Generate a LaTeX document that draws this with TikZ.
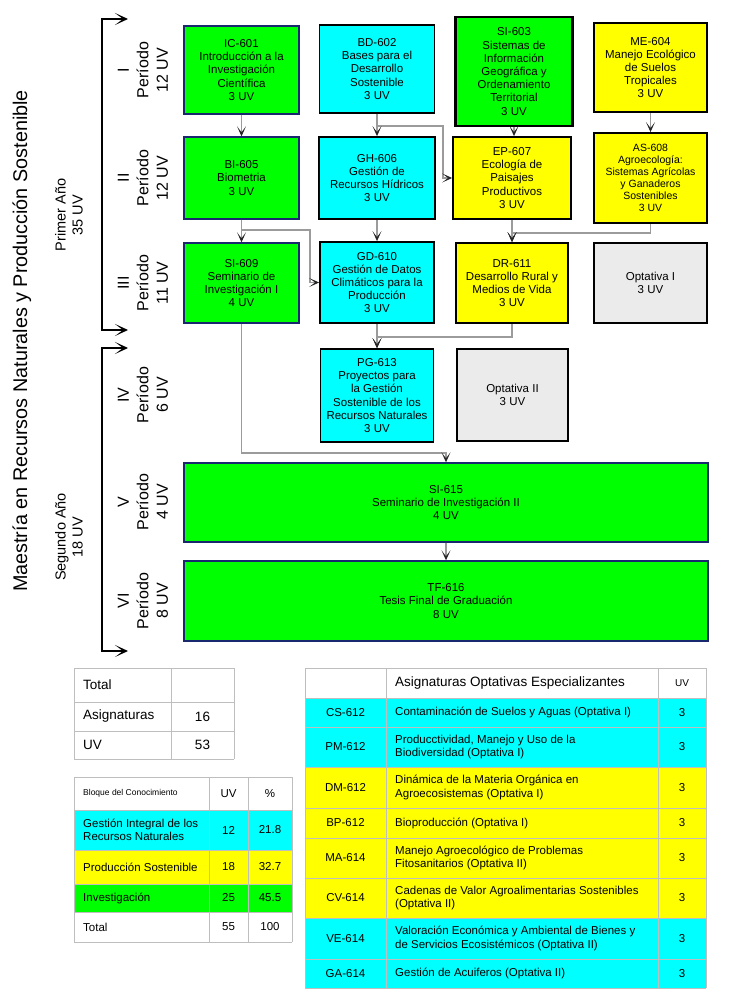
\documentclass[tikz,border=0pt]{standalone}
\usepackage{fontspec}
\setmainfont{Liberation Sans}
\usetikzlibrary{arrows.meta}
\definecolor{cgreen}{RGB}{0,255,0}
\definecolor{ccyan}{RGB}{0,255,255}
\definecolor{cyellow}{RGB}{255,255,0}
\definecolor{cgray}{RGB}{235,235,235}
\definecolor{cnavy}{RGB}{25,40,110}
\definecolor{cline}{RGB}{155,155,155}
\definecolor{cgrid}{RGB}{190,190,190}
\tikzset{
  course/.style={rectangle, draw=black, line width=1.8pt, align=center, inner sep=1pt,
    font=\fontsize{11.5}{13.2}\selectfont},
  gcourse/.style={course, fill=cgreen, draw=cnavy, line width=1.4pt},
  ccourse/.style={course, fill=ccyan},
  ycourse/.style={course, fill=cyellow},
  ocourse/.style={course, fill=cgray},
  conn/.style={draw=cline, line width=1.1pt, -{Stealth[length=10pt,width=9pt,inset=6pt,color=black!85]}},
  bk/.style={draw=black, line width=1.2pt,
    {Stealth[length=13pt,width=12pt,inset=8pt]}-{Stealth[length=13pt,width=12pt,inset=8pt]}},
  period/.style={rotate=90, align=center, font=\fontsize{16}{19.5}\selectfont},
  yearlbl/.style={rotate=90, align=center, font=\fontsize{14.5}{17}\selectfont},
  grid/.style={draw=cgrid, line width=1pt},
  tcell/.style={inner sep=0pt, font=\fontsize{11.5}{13.5}\selectfont},
}
\begin{document}
\begin{tikzpicture}[x=1pt, y=-1pt]
\useasboundingbox (0,0) rectangle (729,1000);

% ---------- left labels ----------
\node[rotate=90, font=\fontsize{19.8}{22}\selectfont] (title) at (22,341) {Maestría en Recursos Naturales y Producción Sostenible};
\node[yearlbl] (y1) at (69,215) {Primer Año\\35 UV};
\node[yearlbl] (y2) at (69,537) {Segundo Año\\18 UV};

\coordinate (b1a) at (128,19);  \coordinate (b1b) at (102,19);
\coordinate (b1c) at (102,330); \coordinate (b1d) at (128,330);
\draw[bk] (b1a) -- (b1b) -- (b1c) -- (b1d);
\coordinate (b2a) at (128,348); \coordinate (b2b) at (102,348);
\coordinate (b2c) at (102,651); \coordinate (b2d) at (128,651);
\draw[bk] (b2a) -- (b2b) -- (b2c) -- (b2d);

\node[period] (p1) at (143,70)  {I\\Período\\12 UV};
\node[period] (p2) at (143,178) {II\\Período\\12 UV};
\node[period] (p3) at (143,283) {III\\Período\\11 UV};
\node[period] (p4) at (143,395) {IV\\Período\\6 UV};
\node[period] (p5) at (143,502) {V\\Período\\4 UV};
\node[period] (p6) at (143,601) {VI\\Período\\8 UV};

% ---------- courses ----------
\node[gcourse, minimum width=115, minimum height=88] (IC) at (241.5,70) {IC-601\\Introducción a la\\Investigación\\Científica\\3 UV};
\node[ccourse, minimum width=115, minimum height=88] (BD) at (377,69) {BD-602\\Bases para el\\Desarrollo\\Sostenible\\3 UV};
\node[course, fill=cgreen, line width=2.4pt, minimum width=117, minimum height=109] (SI3) at (514,71.5) {SI-603\\Sistemas de\\Información\\Geográfica y\\Ordenamiento\\Territorial\\3 UV};
\node[ycourse, minimum width=113, minimum height=89] (ME) at (650.5,67.5) {ME-604\\Manejo Ecológico\\de Suelos\\Tropicales\\3 UV};

\node[gcourse, minimum width=115, minimum height=82] (BI) at (241.5,178) {BI-605\\Biometria\\3 UV};
\node[ccourse, minimum width=116, minimum height=82] (GH) at (377,178) {GH-606\\Gestión de\\Recursos Hídricos\\3 UV};
\node[ycourse, minimum width=118, minimum height=82] (EP) at (512,178) {EP-607\\Ecología de\\Paisajes\\Productivos\\3 UV};
\node[ycourse, minimum width=113, minimum height=90, font=\fontsize{10.5}{12.1}\selectfont] (AS) at (650.5,178) {AS-608\\Agroecología:\\Sistemas Agrícolas\\y Ganaderos\\Sostenibles\\3 UV};

\node[gcourse, minimum width=115, minimum height=80] (SI9) at (241.5,283) {SI-609\\Seminario de\\Investigación I\\4 UV};
\node[ccourse, minimum width=114, minimum height=81] (GD) at (377,282.5) {GD-610\\Gestión de Datos\\Climáticos para la\\Producción\\3 UV};
\node[ycourse, minimum width=112, minimum height=80] (DR) at (512,283) {DR-611\\Desarrollo Rural y\\Medios de Vida\\3 UV};
\node[ocourse, minimum width=113, minimum height=80] (O1) at (650.5,283) {Optativa I\\3 UV};

\node[ccourse, minimum width=113, minimum height=93] (PG) at (377,395.5) {PG-613\\Proyectos para\\la Gestión\\Sostenible de los\\Recursos Naturales\\3 UV};
\node[ocourse, minimum width=111, minimum height=92] (O2) at (512.5,395) {Optativa II\\3 UV};

\node[gcourse, minimum width=524, minimum height=79] (SI5) at (446,502.5) {SI-615\\Seminario de Investigación II\\4 UV};
\node[gcourse, minimum width=524, minimum height=80] (TF) at (446,601) {TF-616\\Tesis Final de Graduación\\8 UV};

% ---------- connectors ----------
\coordinate (j1) at (443,126);
\coordinate (j2) at (310,230);
\coordinate (j3) at (650.5,233);
\coordinate (j4) at (377,337);
\coordinate (j5) at (446,453);
\draw[conn] (IC.south) -- (BI.north);
\draw[conn] (BD.south) |- (j1) |- (EP.west);
\draw[conn] (BD.south) -- (GH.north);
\draw[conn] (SI3.south) -- (SI3.south |- EP.north);
\draw[conn] (ME.south) -- (ME.south |- AS.north);
\draw[conn] (BI.south) |- (j2) |- (GD.west);
\draw[conn] (BI.south) -- (SI9.north);
\draw[conn] (GH.south) -- (GD.north);
\draw[conn] (AS.south) -- (j3) -| (DR.north);
\draw[conn] (EP.south) -- (DR.north);
\draw[conn] (DR.south) |- (j4) -- (PG.north);
\draw[conn] (GD.south) -- (PG.north);
\draw[conn] (SI9.south) |- (j5) -- (SI5.north);
\draw[conn] (SI5.south) -- (TF.north);

% ---------- table 1 ----------
\foreach \yy in {668,702,731,759} \draw[grid] (74,\yy) -- (234,\yy);
\foreach \xx in {74,171,234} \draw[grid] (\xx,668) -- (\xx,759);
\begin{scope}[every node/.style={tcell, font=\fontsize{13.5}{15}\selectfont}]
\node[anchor=west] (t1a) at (83,685) {Total};
\node[anchor=west] (t1b) at (83,716.5) {Asignaturas};
\node (t1c) at (202.5,716.5) {16};
\node[anchor=west] (t1d) at (83,745) {UV};
\node (t1e) at (202.5,745) {53};
\end{scope}

% ---------- table 2 ----------
\fill[ccyan] (74,810) rectangle (292,850);
\fill[cyellow] (74,850) rectangle (292,884);
\fill[cgreen] (74,884) rectangle (292,912);
\foreach \yy in {777,810,850,884,912,942} \draw[grid] (74,\yy) -- (292,\yy);
\foreach \xx in {74,209,248,292} \draw[grid] (\xx,777) -- (\xx,942);
\begin{scope}[every node/.style={tcell}]
\node[anchor=west, font=\fontsize{8.5}{10}\selectfont] (t2h1) at (83,793.5) {Bloque del Conocimiento};
\node (t2h2) at (228.5,793.5) {UV};
\node (t2h3) at (270,793.5) {\%};
\node[anchor=west, align=left] (t2a) at (83,830) {Gestión Integral de los\\Recursos Naturales};
\node (t2a2) at (228.5,830) {12};
\node (t2a3) at (270,830) {21.8};
\node[anchor=west] (t2b) at (83,867) {Producción Sostenible};
\node (t2b2) at (228.5,867) {18};
\node (t2b3) at (270,867) {32.7};
\node[anchor=west] (t2c) at (83,898) {Investigación};
\node (t2c2) at (228.5,898) {25};
\node (t2c3) at (270,898) {45.5};
\node[anchor=west] (t2d) at (83,927) {Total};
\node (t2d2) at (228.5,927) {55};
\node (t2d3) at (270,927) {100};
\end{scope}

% ---------- table 3 ----------
\fill[ccyan] (305,698) rectangle (706,767);
\fill[cyellow] (305,767) rectangle (706,918);
\fill[ccyan] (305,918) rectangle (706,988);
\foreach \yy in {668,698,727,767,808,838,878,918,959,988} \draw[grid] (305,\yy) -- (706,\yy);
\foreach \xx in {305,386,658,706} \draw[grid] (\xx,668) -- (\xx,988);
\begin{scope}[every node/.style={tcell}]
\node[anchor=west, font=\fontsize{13.5}{15}\selectfont] (t3h) at (395,683) {Asignaturas Optativas Especializantes};
\node[font=\fontsize{10}{12}\selectfont] (t3u) at (682,683) {UV};
\node (c1) at (345.5,712.5) {CS-612};
\node[anchor=west, align=left] (d1) at (395,712.5) {Contaminación de Suelos y Aguas (Optativa I)};
\node (u1) at (682,712.5) {3};
\node (c2) at (345.5,747) {PM-612};
\node[anchor=west, align=left] (d2) at (395,747) {Producctividad, Manejo y Uso de la\\Biodiversidad (Optativa I)};
\node (u2) at (682,747) {3};
\node (c3) at (345.5,787.5) {DM-612};
\node[anchor=west, align=left] (d3) at (395,787.5) {Dinámica de la Materia Orgánica en\\Agroecosistemas (Optativa I)};
\node (u3) at (682,787.5) {3};
\node (c4) at (345.5,823) {BP-612};
\node[anchor=west, align=left] (d4) at (395,823) {Bioproducción (Optativa I)};
\node (u4) at (682,823) {3};
\node (c5) at (345.5,858) {MA-614};
\node[anchor=west, align=left] (d5) at (395,858) {Manejo Agroecológico de Problemas\\Fitosanitarios (Optativa II)};
\node (u5) at (682,858) {3};
\node (c6) at (345.5,898) {CV-614};
\node[anchor=west, align=left] (d6) at (395,898) {Cadenas de Valor Agroalimentarias Sostenibles\\(Optativa II)};
\node (u6) at (682,898) {3};
\node (c7) at (345.5,938.5) {VE-614};
\node[anchor=west, align=left] (d7) at (395,938.5) {Valoración Económica y Ambiental de Bienes y\\de Servicios Ecosistémicos (Optativa II)};
\node (u7) at (682,938.5) {3};
\node (c8) at (345.5,973.5) {GA-614};
\node[anchor=west, align=left] (d8) at (395,973.5) {Gestión de Acuiferos (Optativa II)};
\node (u8) at (682,973.5) {3};
\end{scope}
\end{tikzpicture}
\end{document}
